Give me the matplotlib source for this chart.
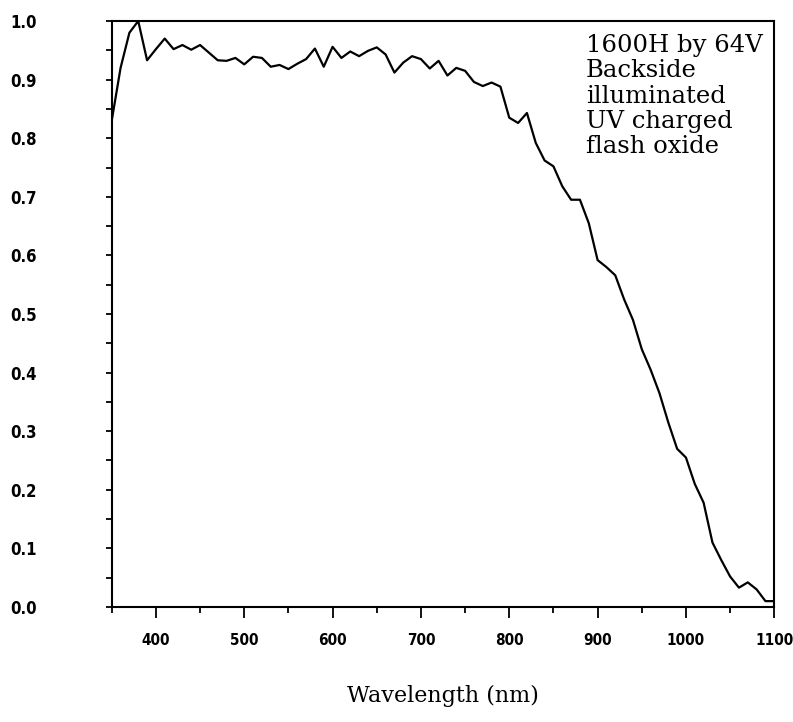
import matplotlib
matplotlib.use("Agg")
import matplotlib.pyplot as plt
from matplotlib.ticker import MultipleLocator

wavelength = [350, 360, 370, 380, 390, 400, 410, 420, 430, 440, 450, 460, 470, 480, 490,
              500, 510, 520, 530, 540, 550, 560, 570, 580, 590, 600, 610, 620, 630, 640,
              650, 660, 670, 680, 690, 700, 710, 720, 730, 740, 750, 760, 770, 780, 790,
              800, 810, 820, 830, 840, 850, 860, 870, 880, 890, 900, 910, 920, 930, 940,
              950, 960, 970, 980, 990, 1000, 1010, 1020, 1030, 1040, 1050, 1060, 1070,
              1080, 1090, 1100]
qe = [0.83, 0.92, 0.98, 1.00, 0.933, 0.952, 0.970, 0.952, 0.959, 0.951, 0.959, 0.946, 0.933,
      0.932, 0.937, 0.926, 0.939, 0.937, 0.922, 0.925, 0.918, 0.927, 0.935, 0.953, 0.922,
      0.956, 0.937, 0.948, 0.940, 0.949, 0.955, 0.943, 0.912, 0.929, 0.940, 0.935, 0.919,
      0.932, 0.907, 0.920, 0.915, 0.896, 0.889, 0.895, 0.888, 0.835, 0.826, 0.843, 0.792,
      0.762, 0.752, 0.718, 0.695, 0.695, 0.655, 0.592, 0.580, 0.566, 0.525, 0.490, 0.440,
      0.405, 0.365, 0.315, 0.270, 0.255, 0.210, 0.178, 0.110, 0.080, 0.052, 0.033, 0.042,
      0.030, 0.010, 0.010]

x_ticks = [400, 500, 600, 700, 800, 900, 1000, 1100]
y_ticks = [0.0, 0.1, 0.2, 0.3, 0.4, 0.5, 0.6, 0.7, 0.8, 0.9, 1.0]
note_lines = ["1600H by 64V", "Backside", "illuminated", "UV charged", "flash oxide"]

fig = plt.figure(figsize=(7.93, 7.22), dpi=100)
ax = fig.add_axes([0.1409, 0.1593, 0.8355, 0.8116])
ax.plot(wavelength, qe, color="black", linewidth=1.6)

ax.set_xlim(350, 1100)
ax.set_ylim(0.0, 1.0)
ax.set_xticks(x_ticks)
ax.set_yticks(y_ticks)
ax.xaxis.set_minor_locator(MultipleLocator(50))
ax.yaxis.set_minor_locator(MultipleLocator(0.05))

x_font = dict(family="DejaVu Sans", stretch="condensed", weight="bold", size=11)
y_font = dict(family="DejaVu Sans", stretch="condensed", weight="bold", size=12)
ax.set_xticklabels([str(v) for v in x_ticks], fontdict=x_font)
ax.set_yticklabels([f"{v:.1f}" for v in y_ticks], fontdict=y_font)

ax.tick_params(axis="x", which="major", direction="out", length=8, width=1.3, pad=11)
ax.tick_params(axis="x", which="minor", direction="out", length=4, width=1.3)
ax.tick_params(axis="y", which="both", direction="out", length=4, width=1.3, pad=50)

for s in ax.spines.values():
    s.set_linewidth(1.5)

ax.set_xlabel("Wavelength (nm)", family="DejaVu Serif", fontsize=16, labelpad=26)

ax.text(0.716, 0.978, "\n".join(note_lines), transform=ax.transAxes, ha="left", va="top",
        family="DejaVu Serif", fontsize=17.5, linespacing=1.13)

fig.savefig("out.png", dpi=100)
